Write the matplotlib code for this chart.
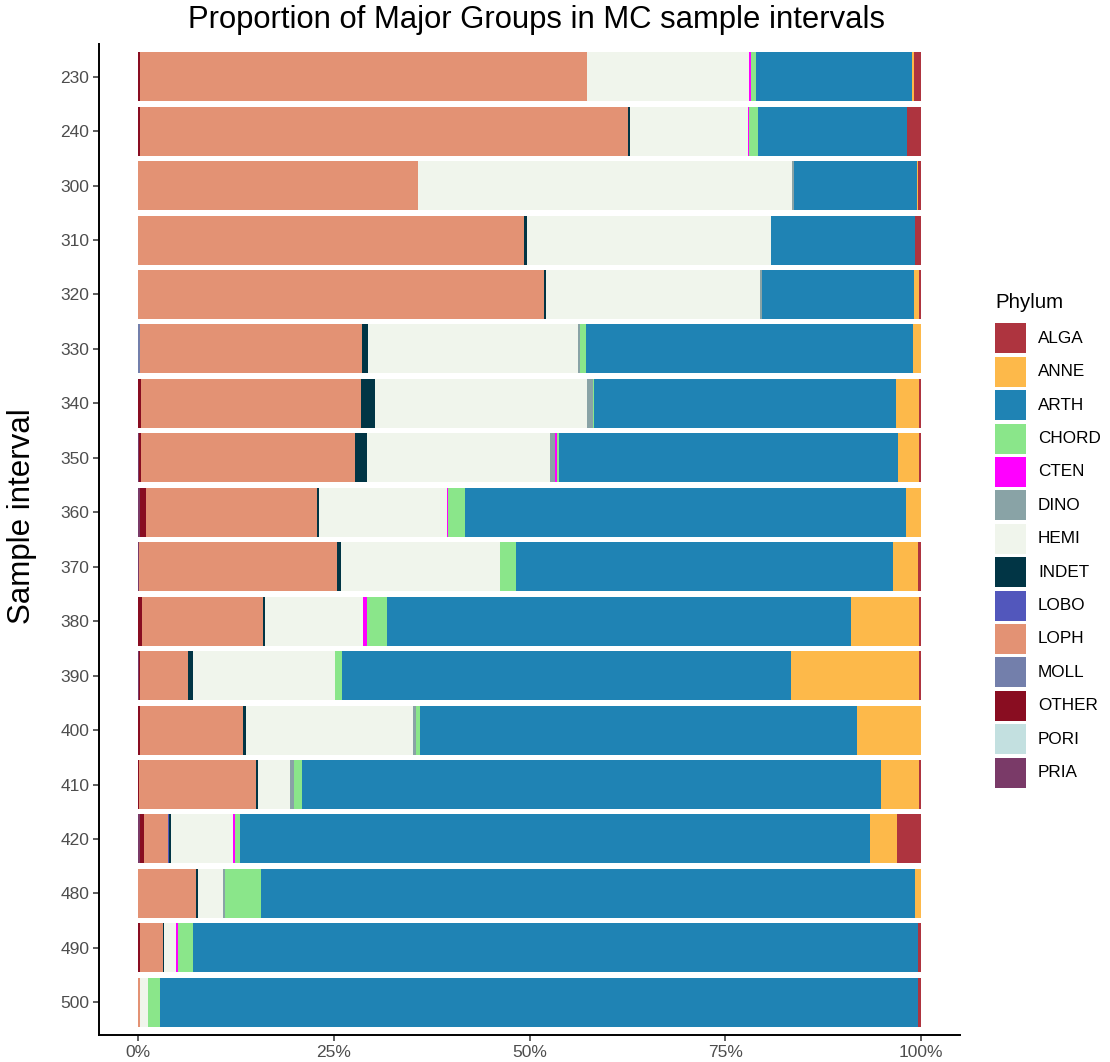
import numpy as np
import matplotlib
matplotlib.use('Agg')
import matplotlib.pyplot as plt
from matplotlib.patches import Rectangle

plt.rcParams['font.family'] = ['Liberation Sans', 'DejaVu Sans']

# ************************************************************************
# Data: percent of each phylum per sample interval
# ************************************************************************
intervals = ['230', '240', '300', '310', '320', '330', '340', '350', '360',
             '370', '380', '390', '400', '410', '420', '480', '490', '500']

PRIA  = [0, 0, 0, 0, 0, 0, 0, 0.1, 0.3, 0.15, 0, 0.1, 0, 0, 0.2, 0, 0, 0]
PORI  = [0] * 18
OTHER = [0.3, 0.2, 0, 0, 0, 0, 0.4, 0.3, 0.65, 0, 0.5, 0.2, 0.25, 0.15, 0.6, 0, 0.2, 0]
MOLL  = [0, 0, 0, 0, 0, 0.3, 0, 0, 0, 0, 0, 0, 0, 0, 0, 0, 0, 0]
LOPH  = [57.0, 62.4, 35.8, 49.35, 51.9, 28.3, 28.1, 27.3, 21.85, 25.25, 15.4, 6.05,
         13.15, 14.95, 3.0, 7.4, 3.0, 0.2]
LOBO  = [0, 0, 0, 0, 0, 0, 0, 0, 0, 0, 0, 0, 0, 0, 0.1, 0, 0, 0]
INDET = [0, 0.2, 0, 0.3, 0.25, 0.8, 1.75, 1.6, 0.35, 0.55, 0.25, 0.6, 0.35, 0.15,
         0.35, 0.3, 0.15, 0]
HEMI  = [20.7, 15.1, 47.8, 31.2, 27.3, 26.85, 27.15, 23.3, 16.25, 20.3, 12.55, 18.15,
         21.35, 4.2, 7.85, 3.15, 1.45, 1.0]
DINO  = [0, 0, 0.15, 0, 0.2, 0.2, 0.7, 0.7, 0, 0, 0, 0, 0.45, 0.4, 0, 0.2, 0, 0]
CTEN  = [0.3, 0.2, 0, 0, 0, 0, 0, 0.15, 0.2, 0, 0.5, 0, 0, 0, 0.25, 0, 0.25, 0]
CHORD = [0.6, 1.1, 0, 0, 0, 0.75, 0.2, 0.35, 2.1, 2.05, 2.55, 0.9, 0.45, 1.05, 0.65,
         4.65, 1.95, 1.55]
ARTH  = [19.95, 19.0, 15.75, 18.45, 19.5, 41.8, 38.5, 43.3, 56.4, 48.1, 59.3, 57.45,
         55.8, 74.0, 80.45, 83.55, 92.6, 96.85]
ANNE  = [0.3, 0, 0.15, 0, 0.55, 1.0, 3.0, 2.7, 1.9, 3.2, 8.75, 16.35, 8.2, 4.9, 3.5,
         0.75, 0, 0]
ALGA  = [0.85, 1.8, 0.35, 0.7, 0.3, 0, 0.2, 0.2, 0, 0.4, 0.2, 0.2, 0, 0.2, 3.05, 0,
         0.4, 0.4]

phyla = ['ALGA', 'ANNE', 'ARTH', 'CHORD', 'CTEN', 'DINO', 'HEMI', 'INDET',
         'LOBO', 'LOPH', 'MOLL', 'OTHER', 'PORI', 'PRIA']
values = {'ALGA': ALGA, 'ANNE': ANNE, 'ARTH': ARTH, 'CHORD': CHORD, 'CTEN': CTEN,
          'DINO': DINO, 'HEMI': HEMI, 'INDET': INDET, 'LOBO': LOBO, 'LOPH': LOPH,
          'MOLL': MOLL, 'OTHER': OTHER, 'PORI': PORI, 'PRIA': PRIA}
colors = {'ALGA': '#AE343F', 'ANNE': '#FDB94A', 'ARTH': '#1F83B4', 'CHORD': '#8AE68A',
          'CTEN': '#FF00FF', 'DINO': '#89A3A6', 'HEMI': '#F0F5EC', 'INDET': '#013545',
          'LOBO': '#5257BC', 'LOPH': '#E39274', 'MOLL': '#737FAB', 'OTHER': '#890D21',
          'PORI': '#C3E0E0', 'PRIA': '#7A3A68'}

# normalise rows to proportions
tot = np.sum([values[p] for p in phyla], axis=0)
props = {p: np.array(values[p]) / tot for p in phyla}

# ************************************************************************
# Plot
# ************************************************************************
W, H = 1110, 1062
fig = plt.figure(figsize=(W / 100, H / 100), dpi=100)
ax = fig.add_axes([99 / W, 1 - 1035 / H, (960 - 99) / W, (1035 - 44) / H])

y = np.arange(len(intervals))
left = np.zeros(len(intervals))
# ggplot stacks the last factor level at the left
for p in phyla[::-1]:
    ax.barh(y, props[p], left=left, height=0.9, color=colors[p], linewidth=0)
    left += props[p]

ax.set_xlim(-0.05, 1.05)
ax.set_ylim(len(intervals) - 0.4, -0.6)
ax.set_yticks(y)
ax.set_yticklabels(intervals)
ax.set_xticks([0, 0.25, 0.5, 0.75, 1.0])
ax.set_xticklabels(['0%', '25%', '50%', '75%', '100%'])
ax.tick_params(axis='both', labelsize=12.5, labelcolor='#4D4D4D', color='#333333',
               length=4, width=1.1, pad=3)
for s in ['top', 'right']:
    ax.spines[s].set_visible(False)
for s in ['left', 'bottom']:
    ax.spines[s].set_linewidth(1.4)

fig.text(22 / W, 1 - 516 / H, 'Sample interval', fontsize=22.5, rotation=90,
         ha='center', va='center')
fig.text(537 / W, 1 - 20 / H, 'Proportion of Major Groups in MC sample intervals',
         fontsize=22.3, ha='center', va='center')

# legend drawn in pixel space
lax = fig.add_axes([0, 0, 1, 1])
lax.set_xlim(0, W)
lax.set_ylim(H, 0)
lax.axis('off')
lax.text(995, 302, 'Phylum', fontsize=14.7, ha='left', va='center')
for i, p in enumerate(phyla):
    yc = 338.3 + i * 33.4
    lax.add_patch(Rectangle((995, yc - 15), 31, 30, facecolor=colors[p], edgecolor='none'))
    lax.text(1038, yc, p, fontsize=12.3, ha='left', va='center')

plt.savefig('out.png', dpi=100)
